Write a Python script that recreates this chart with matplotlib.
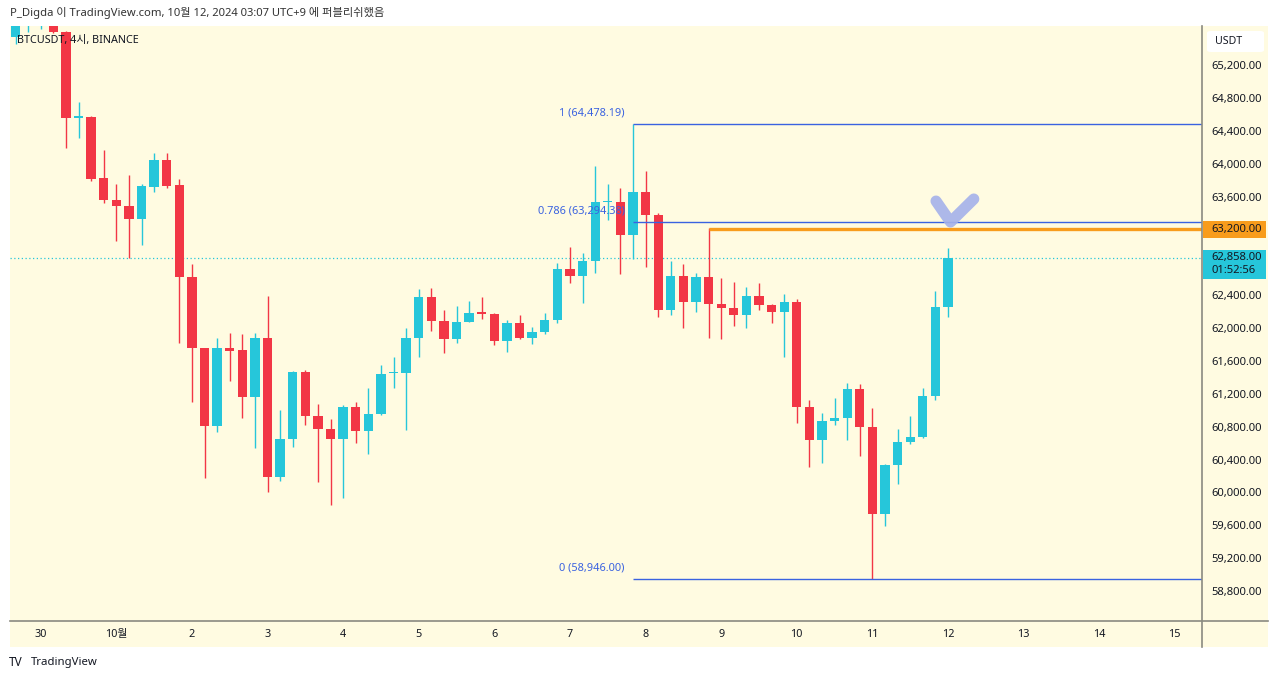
import numpy as np
import matplotlib.pyplot as plt
from matplotlib.patches import Rectangle, FancyBboxPatch
from matplotlib.lines import Line2D
import matplotlib.transforms as mtransforms

plt.rcParams['font.family'] = ['Noto Sans', 'Noto Sans CJK KR']

# BTCUSDT 4h candles (KST)
opens = [65541, 65700, 65760, 65900, 65601, 64560, 64564, 63825, 63557, 63484,
         63326, 63720, 64044, 63735, 62624, 61753, 60808, 61753, 61730, 61164,
         61875, 60191, 60650, 61461, 60929, 60768, 60646, 61043, 60751, 60954,
         61450, 61450, 61875, 62374, 62089, 61863, 62077, 62191, 62170, 61846,
         62065, 61882, 61950, 62097, 62718, 62633, 62815, 63530, 63530, 63132,
         63651, 63375, 62219, 62633, 62320, 62624, 62292, 62240, 62158, 62389,
         62280, 62199, 62320, 61035, 60637, 60869, 60901, 61258, 60792, 59733,
         60333, 60617, 60670, 61176, 62259]
highs = [65760, 65900, 65950, 65950, 65620, 64753, 64580, 64166, 63752, 63862,
         63752, 64133, 64126, 63813, 62779, 61760, 61882, 61943, 61924, 61935,
         62389, 61002, 61480, 61490, 61072, 60893, 61063, 61103, 61274, 61550,
         61651, 61996, 62471, 62483, 62219, 62268, 62329, 62374, 62180, 62097,
         62158, 62009, 62179, 62787, 62982, 62916, 63971, 63752, 63707, 64478.19,
         63910, 63395, 62815, 62779, 62673, 63213, 62605, 62563, 62495, 62544,
         62290, 62410, 62350, 61124, 60962, 61152, 61327, 61319, 61030, 60345,
         60771, 60929, 61266, 62450, 62970]
lows = [65455, 65601, 65638, 65590, 64190, 64308, 63790, 63521, 63059, 62852,
        63010, 63658, 63704, 61818, 61103, 60171, 60739, 61355, 60901, 60536,
        60008, 60139, 60549, 60820, 60130, 59847, 59928, 60605, 60463, 60940,
        61267, 60759, 61646, 61967, 61692, 61821, 62070, 62106, 61793, 61712,
        61870, 61806, 61927, 62065, 62551, 62301, 62666, 63314, 62657, 62836,
        62746, 62138, 62158, 62004, 62199, 61875, 61863, 62024, 62004, 62219,
        62065, 61644, 60841, 60312, 60354, 60820, 60637, 60443, 58946, 59595,
        60099, 60585, 60658, 61124, 62130]
closes = [65720, 65850, 65900, 65601, 64555, 64580, 63813, 63557, 63484, 63326,
          63728, 64044, 63731, 62624, 61753, 60808, 61753, 61724, 61164, 61875,
          60191, 60646, 61461, 60929, 60768, 60646, 61043, 60751, 60954, 61440,
          61462, 61875, 62374, 62089, 61863, 62077, 62179, 62170, 61846, 62065,
          61882, 61955, 62097, 62718, 62633, 62815, 63537, 63545, 63132, 63651,
          63375, 62219, 62633, 62320, 62624, 62292, 62240, 62158, 62389, 62280,
          62199, 62320, 61035, 60637, 60869, 60901, 61258, 60792, 59733, 60333,
          60617, 60670, 61176, 62259, 62858]

day_labels = ['30', '10월', '2', '3', '4', '5', '6', '7', '8', '9',
              '10', '11', '12', '13', '14', '15']
price_ticks = [58800, 59200, 59600, 60000, 60400, 60800, 61200, 61600, 62000,
               62400, 63200, 63600, 64000, 64400, 64800, 65200]

fib_levels = [1.0, 0.786, 0.0]
fib_prices = [64478.19, 63294.38, 58946.00]
fib_start = 49          # bar where the fib drawing starts
resistance = 63200.0
resist_start = 55
last_price = 62858.00
countdown = '01:52:56'
check_x = [73.05, 74.2, 76.05]     # hand-drawn check mark
check_y = [63545, 63290, 63570]

UP = '#26c6da'
DOWN = '#f23645'
CREAM = '#fffbe1'
BLUE = '#3a62e0'
ORANGE = '#f89c1c'
TXT = '#131722'

W, H = 1280, 681
fig = plt.figure(figsize=(W / 100, H / 100), dpi=100, facecolor='white')


def fx(x):
    return x / W


def fy(y):
    return 1 - y / H


# chart panel background (plot + axes), kept below the axes
fig.patches.append(Rectangle((fx(10), fy(647)), fx(1258), 621 / H,
                             transform=fig.transFigure, fc=CREAM, ec='none', zorder=-5))

ax = fig.add_axes([fx(10), fy(621), fx(1192), 595 / H])
ax.set_facecolor(CREAM)

n = len(opens)
x = np.arange(n)
o = np.array(opens, float)
c = np.array(closes, float)
colors = [UP if cc >= oo else DOWN for oo, cc in zip(o, c)]
height = c - o
height = np.where(np.abs(height) < 14, np.where(height >= 0, 14, -14), height)

ax.vlines(x, lows, highs, colors=colors, lw=1.0, zorder=2)
ax.bar(x, height, bottom=o, width=0.74, color=colors, zorder=3, linewidth=0)

ax.set_xlim(-0.44, 94.16)
ax.set_ylim(58435, 65675)

# current price dotted line
ax.axhline(last_price, color=UP, lw=0.9, ls=(0, (1, 2)), zorder=1)

# fib retracement lines
x_right = 94.16
for lvl, p in zip(fib_levels, fib_prices):
    ax.hlines(p, fib_start, x_right, color=BLUE, lw=1.0, zorder=4)
    ax.annotate(f'{lvl:g} ({p:,.2f})', (fib_start, p), xytext=(-6, 8),
                textcoords='offset points', ha='right', va='center',
                color=BLUE, fontsize=7.9, zorder=5)

# orange resistance
ax.hlines(resistance, resist_start, x_right, color=ORANGE, lw=2.4, zorder=4)

# check mark
ax.plot(check_x, check_y, color='#a4b1ea', lw=8, solid_capstyle='round',
        solid_joinstyle='round', alpha=0.9, zorder=6)

# axes styling
for s in ax.spines.values():
    s.set_visible(False)
ax.yaxis.tick_right()
ax.set_yticks(price_ticks)
ax.set_yticklabels([f'{p:,.2f}' for p in price_ticks])
ax.tick_params(axis='y', length=0, pad=6.5, labelsize=8.1, labelcolor=TXT)
ax.set_xticks([2 + 6 * k for k in range(len(day_labels))])
ax.set_xticklabels(day_labels)
ax.tick_params(axis='x', length=0, pad=6, labelsize=7.8, labelcolor=TXT)

# separators
fig.lines.append(Line2D([fx(1202), fx(1202)], [fy(26), fy(647)],
                        transform=fig.transFigure, color='#8a8a80', lw=1.2))
fig.lines.append(Line2D([fx(10), fx(1268)], [fy(621), fy(621)],
                        transform=fig.transFigure, color='#8a8a80', lw=1.2))

# price axis labels
blend = mtransforms.blended_transform_factory(fig.transFigure, ax.transData)
dpp = (65675 - 58435) / 595  # price units per pixel
ax.add_patch(Rectangle((fx(1203), resistance - 8.5 * dpp), fx(63), 17 * dpp,
                       transform=blend, fc=ORANGE, ec='none', clip_on=False, zorder=7))
ax.text(fx(1211), resistance, f'{resistance:,.2f}', transform=blend, va='center',
        ha='left', fontsize=8.1, color=TXT, zorder=8)
ax.add_patch(Rectangle((fx(1203), last_price - 21 * dpp), fx(63), 29 * dpp,
                       transform=blend, fc=UP, ec='none', clip_on=False, zorder=7))
ax.text(fx(1211), last_price, f'{last_price:,.2f}', transform=blend, va='center',
        ha='left', fontsize=8.1, color=TXT, zorder=8)
ax.text(fx(1211), last_price - 13 * dpp, countdown, transform=blend, va='center',
        ha='left', fontsize=8.1, color=TXT, zorder=8)

fig.patches.append(FancyBboxPatch((fx(1207), fy(52)), fx(57), 21 / H,
                                  boxstyle='round,pad=0,rounding_size=0.003',
                                  transform=fig.transFigure, fc='white', ec='none', zorder=3))
fig.text(fx(1215), fy(41), 'USDT', va='center', ha='left', fontsize=7.6, color=TXT)

# header / legend / footer
fig.text(fx(10), fy(13), 'P_Digda 이 TradingView.com, 10월 12, 2024 03:07 UTC+9 에 퍼블리쉬했음',
         va='center', ha='left', fontsize=8.1, color='#333333')
ax.text(fx(17), fy(40), 'BTCUSDT, 4시, BINANCE', transform=fig.transFigure,
        va='center', ha='left', fontsize=7.8, color=TXT, zorder=9)
fig.text(fx(9), fy(663), 'TV', va='center', ha='left', fontsize=8.5,
         fontweight='bold', color=TXT)
fig.text(fx(31), fy(663), 'TradingView', va='center', ha='left', fontsize=8.2,
         color=TXT)

fig.savefig('out.png', dpi=100, facecolor='white')
